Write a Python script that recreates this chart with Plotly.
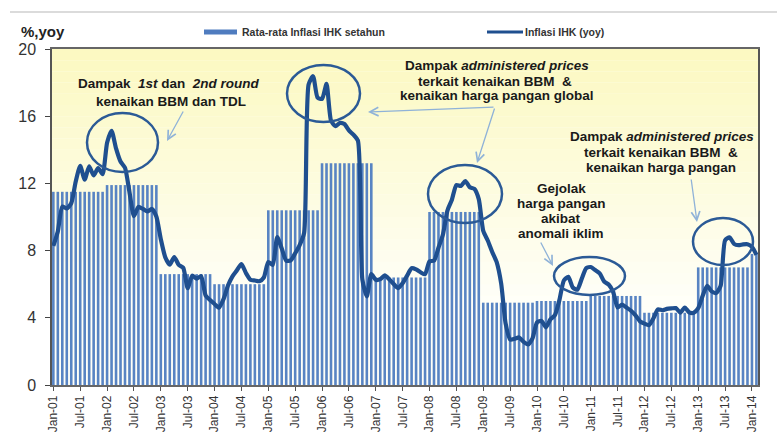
import plotly.graph_objects as go

# ---------------- data ----------------
years = list(range(2001, 2015))
rata_rata_setahun = [11.5, 11.9, 6.6, 6.0, 10.4, 13.2, 6.4, 10.3, 4.9, 5.0, 5.3, 4.3, 7.0, 7.8]

inflasi_2001 = [8.28, 9.14, 10.62, 10.51, 10.82, 12.11, 13.04, 12.23, 13.01, 12.47, 12.91, 12.55]
inflasi_2002 = [14.42, 15.13, 14.08, 13.30, 12.93, 11.48, 10.05, 10.60, 10.48, 10.33, 10.48, 10.03]
inflasi_2003 = [8.68, 7.60, 7.17, 7.62, 7.15, 6.98, 5.76, 6.51, 6.33, 6.48, 5.33, 5.06]
inflasi_2004 = [4.82, 4.60, 5.11, 5.92, 6.47, 6.83, 7.20, 6.67, 6.27, 6.22, 6.18, 6.40]
inflasi_2005 = [7.32, 7.15, 8.81, 8.12, 7.40, 7.42, 7.84, 8.33, 9.06, 17.89, 18.38, 17.11]
inflasi_2006 = [17.03, 17.92, 15.74, 15.40, 15.60, 15.53, 15.15, 14.90, 14.55, 6.29, 5.27, 6.60]
inflasi_2007 = [6.26, 6.30, 6.52, 6.29, 6.01, 5.77, 6.06, 6.51, 6.95, 6.88, 6.71, 6.59]
inflasi_2008 = [7.36, 7.40, 8.17, 8.96, 10.38, 11.03, 11.90, 11.85, 12.14, 11.77, 11.68, 11.06]
inflasi_2009 = [9.17, 8.60, 7.92, 7.31, 6.04, 3.65, 2.71, 2.75, 2.83, 2.57, 2.41, 2.78]
inflasi_2010 = [3.72, 3.81, 3.43, 3.91, 4.16, 5.05, 6.22, 6.44, 5.80, 5.67, 6.33, 6.96]
inflasi_2011 = [7.02, 6.84, 6.65, 6.16, 5.98, 5.54, 4.61, 4.79, 4.61, 4.42, 4.15, 3.79]
inflasi_2012 = [3.65, 3.56, 3.97, 4.50, 4.45, 4.53, 4.56, 4.58, 4.31, 4.61, 4.32, 4.30]
inflasi_2013 = [4.57, 5.31, 5.90, 5.57, 5.47, 5.90, 8.61, 8.79, 8.40, 8.32, 8.37, 8.38]
inflasi_2014 = [8.22, 7.75]

tick_labels = []
for y in range(2001, 2015):
    tick_labels.append("Jan-%02d" % (y % 100))
    if y < 2014:
        tick_labels.append("Jul-%02d" % (y % 100))

inflasi_by_year = [inflasi_2001, inflasi_2002, inflasi_2003, inflasi_2004, inflasi_2005,
                   inflasi_2006, inflasi_2007, inflasi_2008, inflasi_2009, inflasi_2010,
                   inflasi_2011, inflasi_2012, inflasi_2013, inflasi_2014]

# ---------------- build series ----------------
x_month, y_line, y_bar = [], [], []
for yi, vals in enumerate(inflasi_by_year):
    for mi, v in enumerate(vals):
        x_month.append(yi * 12 + mi)
        y_line.append(v)
        y_bar.append(rata_rata_setahun[yi])
tick_vals = [i * 6 for i in range(len(tick_labels))]

# ---------------- geometry helpers (pixel -> paper) ----------------
W, H = 777, 439
L, R, T, B = 52, 758, 49, 385


def px(x):
    return (x - L) / (R - L)


def py(y):
    return (B - y) / (B - T)


FONT = "Liberation Sans, Arial, sans-serif"
LINE_COL = "#1f4f8f"
BAR_COL = "#5884c3"
ELL_COL = "#2b5a96"
ARR_COL = "#8fb2d8"

fig = go.Figure()
fig.add_trace(go.Bar(x=x_month, y=y_bar, marker=dict(color=BAR_COL, line=dict(width=0)),
                     name="Rata-rata Inflasi IHK setahun", showlegend=False))
fig.add_trace(go.Scatter(x=x_month, y=y_line, mode="lines",
                         line=dict(color=LINE_COL, width=4.2, shape="spline", smoothing=0.6),
                         name="Inflasi IHK (yoy)", showlegend=False))

shapes = []
# background gradient (yellow top -> near white)
nb = 30
for i in range(nb):
    f = i / (nb - 1)
    t = min(1.0, f / 0.75)
    r = int(252 + (255 - 252) * t)
    g = int(249 + (255 - 249) * t)
    b = int(194 + (248 - 194) * t)
    shapes.append(dict(type="rect", xref="paper", yref="paper", x0=0, x1=1,
                       y0=1 - (i + 1) / nb, y1=1 - i / nb, line=dict(width=0),
                       fillcolor="rgb(%d,%d,%d)" % (r, g, b), layer="below"))

# ellipses (pixel boxes)
ellipses = [(87, 113, 158, 172), (287, 65, 360, 122), (428, 165, 502, 223),
            (554, 257, 625, 295), (693, 218, 753, 265)]
for (x0, y0, x1, y1) in ellipses:
    shapes.append(dict(type="circle", xref="paper", yref="paper", x0=px(x0), x1=px(x1),
                       y0=py(y1), y1=py(y0), line=dict(color=ELL_COL, width=2.5)))

# top grey rule
shapes.append(dict(type="line", xref="paper", yref="paper", x0=px(10), x1=px(777),
                   y0=py(12), y1=py(12), line=dict(color="#cfcfcf", width=1.5)))
# legend swatches
shapes.append(dict(type="rect", xref="paper", yref="paper", x0=px(204), x1=px(237),
                   y0=py(34.5), y1=py(29.5), line=dict(width=0), fillcolor="#4f7cbf"))
shapes.append(dict(type="line", xref="paper", yref="paper", x0=px(487), x1=px(523),
                   y0=py(32), y1=py(32), line=dict(color=LINE_COL, width=3)))

annotations = []


def text_ann(txt, x, y, size=13.5, anchor="center", bold=True, color="#1a1a1a", yanchor="middle"):
    annotations.append(dict(text=("<b>%s</b>" % txt) if bold else txt, x=px(x), y=py(y),
                            xref="paper", yref="paper", showarrow=False, xanchor=anchor,
                            yanchor=yanchor, font=dict(family=FONT, size=size, color=color)))


text_ann("%,yoy", 19, 32, size=15, anchor="left", color="#222")
text_ann("Rata-rata Inflasi IHK setahun", 240, 32, size=10.5, anchor="left", color="#333")
text_ann("Inflasi IHK (yoy)", 523, 32, size=10.5, anchor="left", color="#333")

# annotation texts line by line
for txt, x, y in [("Dampak  <i>1st</i> dan  <i>2nd round</i>", 169, 83),
                  ("kenaikan BBM dan TDL", 171, 101),
                  ("Dampak <i>administered prices</i>", 497, 65),
                  ("terkait kenaikan BBM  &", 495, 81),
                  ("kenaikan harga pangan global", 497, 96),
                  ("Gejolak", 561, 188),
                  ("harga pangan", 561, 203),
                  ("akibat", 561, 218),
                  ("anomali iklim", 561, 233),
                  ("Dampak <i>administered prices</i>", 662, 136),
                  ("terkait kenaikan BBM  &", 661, 152),
                  ("kenaikan harga pangan", 661, 167)]:
    text_ann(txt, x, y, size=13.5)

# arrows: (head_x, head_y, tail_x, tail_y)
arrows = [(167, 141, 184, 110), (368, 112, 495, 107), (477, 163, 495, 107),
          (553, 266, 540, 241), (697, 222, 691, 178)]
for hx, hy, tx, ty in arrows:
    annotations.append(dict(x=px(hx), y=py(hy), xref="paper", yref="paper", text="",
                            showarrow=True, ax=tx - hx, ay=ty - hy, axref="pixel", ayref="pixel",
                            arrowhead=5, arrowsize=1.3, arrowwidth=1.3, arrowcolor=ARR_COL))

fig.update_layout(
    width=W, height=H,
    margin=dict(l=L, r=W - R, t=T, b=H - B, pad=0),
    paper_bgcolor="white", plot_bgcolor="#fffef0",
    bargap=0.42,
    font=dict(family=FONT, color="#333"),
    shapes=shapes, annotations=annotations,
    xaxis=dict(range=[-0.3, 157.35], tickmode="array", tickvals=tick_vals, ticktext=tick_labels,
               tickangle=-90, tickfont=dict(size=12, color="#333"), ticks="outside", ticklen=4,
               tickcolor="#555", showline=True, linecolor="#666", linewidth=1.5, mirror=True,
               showgrid=False, zeroline=False, automargin=False),
    yaxis=dict(range=[0, 20], tickvals=[0, 4, 8, 12, 16, 20], tickfont=dict(size=16, color="#333"),
               ticks="outside", ticklen=5, tickcolor="#444", showline=True, linecolor="#555",
               linewidth=1.5, mirror=True, showgrid=False, zeroline=False,
               ticklabelstandoff=6, automargin=False),
)

fig.write_html("out.html", config={"displayModeBar": False},
               post_script="document.body.style.margin='0';document.body.style.overflow='hidden';")
